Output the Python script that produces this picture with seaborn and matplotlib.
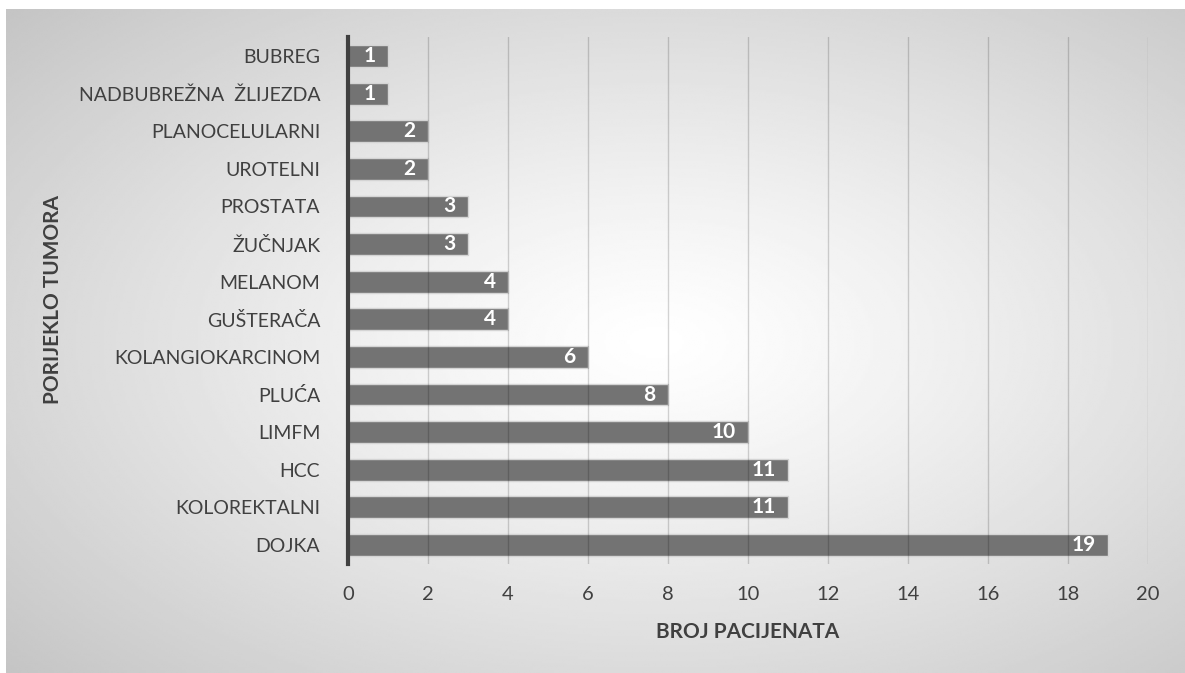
import matplotlib
matplotlib.use("Agg")
import matplotlib.pyplot as plt
import numpy as np
import pandas as pd
import seaborn as sns

categories = [
    "BUBREG", "NADBUBREŽNA  ŽLIJEZDA", "PLANOCELULARNI", "UROTELNI", "PROSTATA",
    "ŽUČNJAK", "MELANOM", "GUŠTERAČA", "KOLANGIOKARCINOM", "PLUĆA",
    "LIMFM", "HCC", "KOLOREKTALNI", "DOJKA",
]
patients = [1, 1, 2, 2, 3, 3, 4, 4, 6, 8, 10, 11, 11, 19]
x_ticks = [0, 2, 4, 6, 8, 10, 12, 14, 16, 18, 20]

df = pd.DataFrame({"tumor": categories, "count": patients})

sns.set_theme(style="white")
plt.rcParams["font.family"] = ["Lato", "DejaVu Sans"]
text_color = "#404040"

W, H = 1185, 673
fig = plt.figure(figsize=(W / 100, H / 100), dpi=100)
fig.patch.set_facecolor("white")

# radial gradient background panel
bg = fig.add_axes([6 / W, 0, 1 - 6 / W, (H - 9) / H], zorder=-1)
ny, nx = 300, 500
yy, xx = np.mgrid[0:ny, 0:nx]
cx, cy = nx * 0.55, ny * 0.5
r = np.sqrt(((xx - cx) / (nx * 0.55)) ** 2 + ((yy - cy) / (ny * 0.55)) ** 2) / np.sqrt(2)
val = np.clip(1 - (62 / 255) * r ** 1.2, 0, 1)
bg.imshow(val, cmap="gray", vmin=0, vmax=1, aspect="auto", interpolation="bilinear")
bg.set_axis_off()

ax = fig.add_axes([348 / W, 1 - 563.8 / H, 800 / W, (563.8 - 37.2) / H])
ax.set_facecolor("none")

sns.barplot(data=df, x="count", y="tumor", orient="h", color="#737373",
            saturation=1, width=0.58, edgecolor="#d4d4d4", linewidth=1, ax=ax)

labels = ax.bar_label(ax.containers[0], padding=-9, color="white",
                      fontsize=15, fontweight="bold")
for t in labels:
    t.set_ha("right")

ax.set_xlim(0, 20)
ax.set_ylim(13.5, -0.5)
ax.set_xticks(x_ticks)
for xt in x_ticks[1:]:
    ax.axvline(xt, color="black", alpha=0.17, lw=1, zorder=5)

for s in ["top", "right", "bottom"]:
    ax.spines[s].set_visible(False)
ax.spines["left"].set_color(text_color)
ax.spines["left"].set_linewidth(3)
ax.spines["left"].set_zorder(6)

ax.tick_params(axis="x", length=0, pad=16, labelsize=14.5, labelcolor=text_color)
ax.tick_params(axis="y", length=0, pad=20, labelsize=14, labelcolor=text_color)
ax.set_xlabel("")
ax.set_ylabel("")

fig.text(748 / W, 1 - 632 / H, "BROJ PACIJENATA", ha="center", va="center",
         fontsize=15, fontweight="bold", color=text_color)
fig.text(53 / W, 1 - 300 / H, "PORIJEKLO TUMORA", ha="center", va="center",
         rotation=90, fontsize=15, fontweight="bold", color=text_color)

fig.savefig("out.png", dpi=100)
